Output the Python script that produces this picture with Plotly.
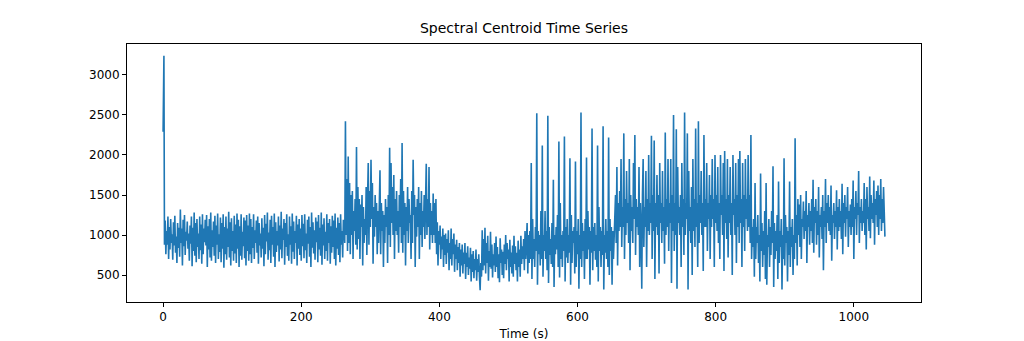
import numpy as np
import plotly.graph_objects as go

# ---- data ----
intro_time = [0.0, 0.4, 0.8, 1.2, 2.0]
intro_vals = [2290, 2780, 2420, 3240, 880]

step = 1.0  # seconds between samples in the sections below

secA_start = 3
secA_vals = [
    1180, 760, 1050, 880, 1230, 700, 1100, 820, 1200, 900, 1010, 690, 1160, 870, 1240, 780, 980, 650, 1150, 840,
    1090, 730, 1320, 900, 1080, 620, 1190, 860, 1250, 750, 1040, 930, 1170, 830, 1020, 680, 1120, 890, 1230, 610,
    1090, 800, 1280, 740, 1150, 660, 1200, 850, 1020, 700, 1230, 810, 1130, 640, 1260, 760, 1080, 910, 1190, 870,
    1250, 600, 1110, 820, 1200, 720, 1280, 680, 1060, 850, 1170, 740, 1240, 650, 1120, 880, 1270, 700, 1010, 790,
    1220, 660, 1150, 830, 1260, 590, 1100, 760, 1230, 690, 1080, 850, 1290, 720, 1160, 620, 1210, 800, 1050, 680,
    1240, 770, 1130, 650, 1270, 830, 1190, 600, 1110, 740, 1260, 690, 1040, 860, 1220, 710, 1180, 620, 1250, 800,
    1120, 680, 1270, 760, 1200, 650, 1100, 840, 1260, 700, 1060, 900, 1180, 780, 1230, 640, 1150, 870, 1020, 720,
    1210, 830, 1090, 610, 1250, 760, 1140, 920, 1280, 690, 1030, 810, 1190, 650, 1240, 880, 1100, 730, 1270, 600,
    1160, 790, 1050, 870, 1230, 670, 1120, 820, 1290, 710, 1080, 940, 1200, 630, 1150, 850, 1260, 740, 1010, 680,
    1230, 880, 1110, 640, 1270, 790, 1170, 700, 1050, 900, 1240, 620, 1130, 830, 1200, 750, 1080, 680, 1250, 860,
    1140, 710, 1260, 810, 1020, 650, 1190, 890, 1230, 730, 1100, 600, 1280, 840, 1160, 770, 1060, 690, 1220, 910,
    1170, 660, 1250, 820, 1090, 740, 1280, 630, 1130, 870, 1210, 700, 1040, 800, 1260, 680, 1150, 900, 1200, 640,
    1110, 780, 1240, 850, 1180, 700, 1270, 620, 1090, 830, 1220, 750, 1150, 660, 1260, 880, 1050, 720, 1190,
]

secB_start = 262
secB_vals = [
    1100, 900, 2420, 1000, 1700, 800, 1980, 900, 1650, 760, 1500, 1000, 1550, 700, 1300, 1050, 1450, 880, 2100, 820,
    1600, 950, 1450, 700, 1380, 1100, 1500, 620, 1350, 900, 1200, 1000, 1600, 750, 1450, 1900, 880, 1550, 1100, 1940,
    1200, 1650, 640, 1350, 980, 1500, 1100, 1400, 760, 1300, 900, 1450, 1810, 760, 1400, 1050, 1300, 600, 1250, 900,
    1450, 1100, 1350, 650, 1500, 1000, 2090, 850, 1900, 1150, 1600, 1000, 1750, 700, 1450, 1050, 1550, 1000, 1300, 780,
    1500, 1100, 1700, 900, 2150, 780, 1550, 1000, 1400, 620, 1350, 1050, 1600, 900, 1450, 1150, 1250, 700, 1550, 900,
    1940, 1250, 1500, 600, 1350, 980, 1450, 1100, 1600, 700, 1400, 1000, 1550, 850, 1300, 1100, 1500, 950, 1650, 1890,
    1000, 1450, 1100, 1850, 820, 1400, 1000, 1300, 900, 1520, 1000, 1400, 900, 1450,
]

secC_start = 396
secC_vals = [
    760, 1160, 620, 1050, 880, 1120, 700, 980, 820, 1080, 600, 1000, 750, 1020, 640, 950, 780, 1060, 560, 900,
    700, 1080, 620, 950, 760, 1020, 540, 880, 700, 940, 560, 850, 650, 900, 480, 820, 620, 880, 520, 780,
    640, 900, 450, 780, 600, 860, 500, 720, 580, 840, 420, 760, 540, 800, 460, 700, 560, 820, 430, 700,
    540, 760, 480, 310, 650, 480, 1060, 560, 950, 620, 1090, 520, 900, 650, 990, 430, 800, 600, 1040, 580,
    880, 470, 760, 620, 900, 540, 980, 600, 850, 460, 760, 410, 960, 650, 820, 500, 790, 460, 880, 640,
    1000, 560, 900, 700, 820, 420, 940, 600, 780, 520, 870, 480, 990, 640, 860, 560, 780, 420, 930, 600,
    820, 480, 990, 640, 860, 700, 950, 560, 1050, 700,
]

secD_start = 526
secD_vals = [
    900, 1150, 520, 1000, 650, 1050, 700, 1900, 450, 1200, 700, 950, 600, 1100, 800, 2520, 380, 1050, 760, 1000,
    620, 1300, 700, 2120, 480, 1000, 800, 1300, 700, 1050, 560, 2490, 400, 1100, 750, 950, 640, 1150, 600, 1690,
    350, 1000, 760, 1100, 820, 1250, 600, 2170, 470, 1400, 700, 1000, 600, 1050, 800, 2230, 420, 1100, 720, 1200,
    650, 1000, 780, 1960, 380, 1250, 650, 1050, 900, 1100, 520, 1920, 600, 1050, 760, 1200, 330, 1000, 700, 2530,
    600, 1150, 800, 1050, 450, 1200, 700, 1970, 700, 1300, 820, 1100, 380, 1050, 780, 2330, 560, 1100, 800, 1150,
    690, 1000, 600, 2120, 420, 1350, 800, 1100, 600, 1050, 750, 2360, 320, 1000, 780, 1200, 700, 1050, 600, 2220,
    500, 1200, 800, 1100, 380, 1050, 700, 1000,
]

secE_start = 654
secE_vals = [
    1000, 1500, 900, 1850, 620, 1400, 1050, 1550, 1100, 1950, 850, 1350, 1100, 2270, 700, 1450, 1000, 1800, 1150, 1400,
    900, 1950, 560, 1500, 1050, 1350, 900, 1900, 1200, 2250, 750, 1450, 1100, 1350, 1000, 1850, 600, 1400, 1100, 330,
    1500, 1950, 850, 1350, 1100, 1800, 600, 1450, 1050, 2000, 1000, 1400, 1150, 2240, 700, 1500, 1050, 2180, 450, 1400,
    1100, 1750, 1000, 1500, 520, 1900, 1150, 1400, 900, 1800, 1050, 1350, 640, 2280, 1000, 1450, 1100, 1950, 800, 1400,
    1150, 1950, 400, 1500, 1050, 2500, 800, 1400, 1000, 2320, 330, 1850, 1150, 1350, 1000, 1500, 600, 1900, 1100, 1450,
    750, 2530, 1000, 1400, 1200, 2270, 320, 1800, 1050, 1350, 900, 1600, 500, 1950, 1050, 1450, 850, 2330, 1100, 1400,
    600, 2420, 900, 1500, 1150, 1800, 1000, 1400, 550, 2250, 1100, 1450, 1100, 1900, 800, 1400, 1200, 1750, 700, 1500,
    1100, 1950, 1200, 1450, 600, 2000, 1150, 1500, 1050, 1850, 900, 1400, 700, 2000, 1250, 1500, 1000, 1900, 550, 2050,
    1150, 1450, 950, 1950, 720, 1500, 1150, 1850, 1000, 1400, 500, 2000, 1250, 1450, 1000, 1900, 650, 1500, 1100, 1950,
    900, 2050, 1150, 1450, 600, 1900, 1100, 1500, 800, 1950, 1200, 1450, 1050, 2000, 1100, 1500, 900, 2250,
]

secF_start = 852
secF_vals = [
    700, 1100, 850, 1200, 480, 1650, 700, 1100, 900, 1250, 650, 1000, 420, 1770, 800, 1150, 600, 1050, 750, 1300,
    450, 1650, 380, 1000, 850, 1200, 600, 1100, 750, 1300, 900, 1860, 350, 1150, 700, 1050, 800, 1250, 450, 1670,
    650, 1050, 850, 1200, 320, 1000, 700, 1960, 620, 1250, 900, 1100, 420, 1050, 750, 1670, 600, 1100, 850, 1200,
    500, 1000, 700, 2210,
]

secG_start = 916
secG_vals = [
    900, 1250, 620, 1450, 1000, 1380, 850, 1500, 700, 1200, 1100, 1420, 950, 1300, 1050, 1550, 650, 1250, 1100, 1400,
    880, 1300, 1050, 1450, 900, 1690, 780, 1350, 1150, 1450, 880, 1300, 1000, 1600, 720, 1250, 1100, 1350, 950, 1500,
    560, 1300, 1100, 1700, 900, 1400, 1150, 1500, 1050, 1350, 1000, 1620, 680, 1250, 1150, 1400, 950, 1300, 1100, 1560,
    820, 1350, 1050, 1450, 1100, 1300, 950, 1640, 760, 1400, 1150, 1500, 980, 1350, 1200, 1600, 850, 1300, 1100, 1380,
    1000, 1450, 1100, 1680, 700, 1350, 1200, 1550, 1000, 1400, 1250, 1800, 900, 1350, 1150, 1450, 1050, 1300, 1150, 1650,
    1000, 1450, 820, 1600, 1200, 1350, 1050, 1730, 960, 1500, 1200, 1400, 1150, 1680, 880, 1450, 1250, 1550, 1100, 1620,
    1000, 1500, 1200, 1700, 1050, 1450, 1150, 1600, 1300, 980,
]

x_ticks = [0, 200, 400, 600, 800, 1000]
y_ticks = [500, 1000, 1500, 2000, 2500, 3000]

# ---- assemble ----
sections = [
    (secA_start, secA_vals), (secB_start, secB_vals), (secC_start, secC_vals),
    (secD_start, secD_vals), (secE_start, secE_vals), (secF_start, secF_vals),
    (secG_start, secG_vals),
]
times = list(intro_time)
vals = list(intro_vals)
for start, v in sections:
    times.extend((start + step * np.arange(len(v))).tolist())
    vals.extend(v)
times = np.array(times)
vals = np.array(vals)

tmin, tmax = times.min(), times.max()
vmin, vmax = vals.min(), vals.max()
xpad = 0.05 * (tmax - tmin)
ypad = 0.05 * (vmax - vmin)

fig = go.Figure()
fig.add_trace(go.Scatter(
    x=times, y=vals, mode="lines",
    line=dict(color="#1f77b4", width=1.6),
    hoverinfo="skip", showlegend=False,
))

font_family = "DejaVu Sans"
fig.update_layout(
    width=1024, height=341,
    margin=dict(l=127, r=103, t=44, b=39),
    paper_bgcolor="white", plot_bgcolor="white",
    font=dict(family=font_family, size=12, color="black"),
    title=dict(text="Spectral Centroid Time Series", x=0.5, xref="paper",
               y=1 - 28 / 341, yref="container", yanchor="middle",
               font=dict(family=font_family, size=14, color="black")),
)
axis_common = dict(
    showline=True, mirror=True, linecolor="black", linewidth=1,
    ticks="outside", ticklen=4, tickwidth=1, tickcolor="black",
    showgrid=False, zeroline=False, automargin=False,
    tickfont=dict(family=font_family, size=12, color="black"),
)
fig.update_xaxes(range=[tmin - xpad, tmax + xpad], tickvals=x_ticks,
                 title=dict(text="Time (s)", standoff=6,
                            font=dict(family=font_family, size=12, color="black")),
                 **axis_common)
fig.update_yaxes(range=[vmin - ypad, vmax + ypad], tickvals=y_ticks, **axis_common)

fig.write_html("out.html")
